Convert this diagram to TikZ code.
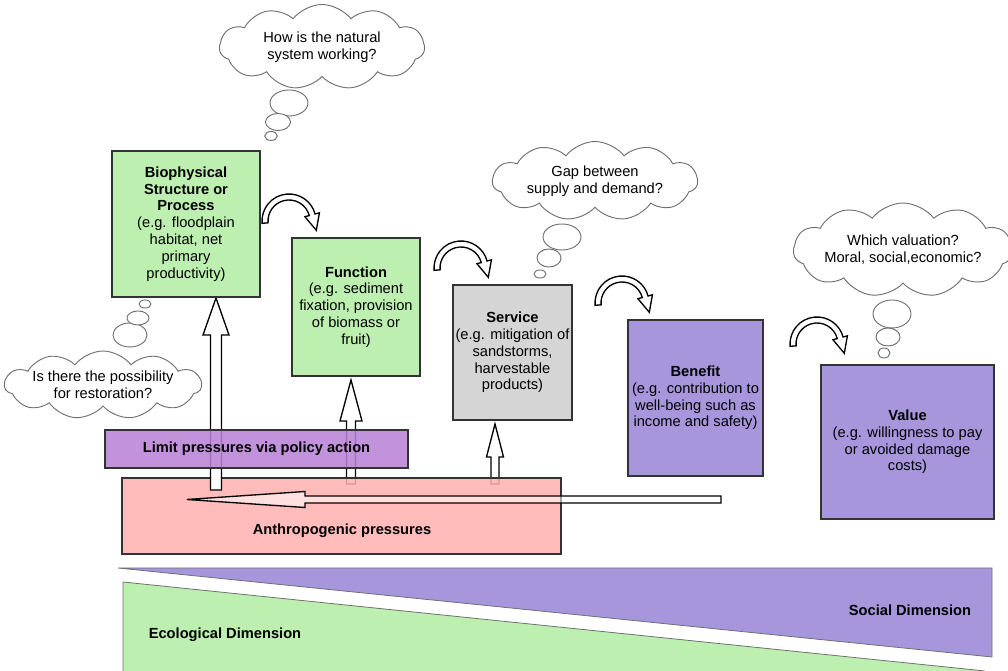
\documentclass[tikz,border=0pt]{standalone}
\usepackage{fontspec}
\setmainfont{Liberation Sans}
\usetikzlibrary{shapes.symbols}

\definecolor{ecogreen}{HTML}{BDF0B0}
\definecolor{servgrey}{HTML}{D4D5D4}
\definecolor{socpurple}{HTML}{A796DB}
\definecolor{policyviolet}{HTML}{B97FD7}
\definecolor{pressurepink}{HTML}{FFB0AE}
\definecolor{boxline}{HTML}{333333}
\definecolor{cloudline}{HTML}{707070}

\newcommand{\boxfont}{\fontsize{11}{12.6}\selectfont}
% block arrow pointing up: x, bottom, head base, tip, shaft half, head half
\newcommand{\liftarrow}[6]{%
  \draw[hollow] (#1-#5,#2) -- (#1-#5,#3) -- (#1-#6,#3) -- (#1,#4)
    -- (#1+#6,#3) -- (#1+#5,#3) -- (#1+#5,#2) -- cycle;}

\tikzset{
  stage/.style={draw=boxline, line width=1.4pt, align=center, inner sep=0pt, font=\boxfont},
  thought/.style={cloud, cloud puffs=11, cloud puff arc=105, cloud ignores aspect,
    draw=cloudline, line width=0.7pt, fill=white, align=center, inner sep=0pt, font=\boxfont},
  bubble/.style={draw=cloudline, line width=0.7pt, fill=white},
  hollow/.style={draw=black, line width=1pt, fill=white},
  turn/.pic={
    \draw[hollow, shift={(22,2)}] (185:27) arc (185:15:27) -- (15:31.5) -- (27.3,-9.3)
      -- (15:16.5) -- (15:21) arc (15:185:21) -- cycle;
  }
}

\begin{document}
\begin{tikzpicture}[x=0.75pt, y=0.75pt]
  \useasboundingbox (0,0) rectangle (1008,671);

  % dimensions
  \fill[socpurple] (118,103) -- (992,103) -- (992,14) -- cycle;
  \draw[cloudline, line width=0.6pt] (118,103) -- (992,103) -- (992,14) -- cycle;
  \fill[ecogreen] (123,89) -- (985,0) -- (123,0) -- cycle;
  \draw[cloudline, line width=0.6pt] (123,0) -- (123,89) -- (985,0);
  \node[font=\boxfont\bfseries] (social) at (910,61) {Social Dimension};
  \node[font=\boxfont\bfseries] (ecological) at (225,36) {Ecological Dimension};

  % pressures
  \liftarrow{351}{187}{250}{291}{4.5}{11}
  \liftarrow{495}{187}{214}{247}{4}{8.5}
  \node[stage, fill=pressurepink, fill opacity=0.85, text opacity=1,
    minimum width=329.25pt, minimum height=57pt] (pressure) at (341.5,155) {};
  \node[font=\boxfont\bfseries] (pressurelabel) at (342,140) {Anthropogenic pressures};
  \liftarrow{216}{181}{336}{373}{5.5}{13}
  \draw[hollow, fill opacity=0.55] (721,175) -- (305,175) -- (305,179.5) -- (187,171.5)
    -- (305,163.5) -- (305,168) -- (721,168) -- cycle;
  \node[stage, fill=policyviolet, fill opacity=0.85, text opacity=1,
    minimum width=227.25pt, minimum height=28.5pt] (policy) at (256.5,222)
    {\textbf{Limit pressures via policy action}};

  % cascade
  \node[stage, fill=ecogreen, minimum width=111pt, minimum height=109.5pt] (structure) at (186,447)
    {\textbf{Biophysical}\\\textbf{Structure or}\\\textbf{Process}\\(e.g. floodplain\\habitat, net\\primary\\productivity)};
  \node[stage, fill=ecogreen, minimum width=96pt, minimum height=103.5pt] (function) at (356,364)
    {\textbf{Function}\\(e.g. sediment\\fixation, provision\\of biomass or\\fruit)};
  \node[stage, fill=servgrey, minimum width=89.25pt, minimum height=101.25pt] (service) at (512.5,318.5)
    {\textbf{Service}\\(e.g. mitigation of\\sandstorms,\\harvestable\\products)};
  \node[stage, fill=socpurple, minimum width=101.25pt, minimum height=117pt] (benefit) at (695.5,273)
    {\textbf{Benefit}\\(e.g. contribution to\\well-being such as\\income and safety)};
  \node[stage, fill=socpurple, minimum width=129.75pt, minimum height=115.5pt] (value) at (907.5,229)
    {\textbf{Value}\\(e.g. willingness to pay\\or avoided damage\\costs)};

  \pic at (267,448) {turn};
  \pic at (439,401) {turn};
  \pic at (600,366) {turn};
  \pic at (795,325) {turn};

  % questions
  \node[thought, minimum width=153.75pt, minimum height=63.75pt] (working) at (322,624)
    {How is the natural\\system working?};
  \draw[bubble] (289,568) ellipse [x radius=19, y radius=13];
  \draw[bubble] (278,549) ellipse [x radius=12.5, y radius=8.5];
  \draw[bubble] (271,535) ellipse [x radius=6.3, y radius=4.5];

  \node[thought, minimum width=153.75pt, minimum height=59.25pt] (gap) at (595,490)
    {Gap between\\supply and demand?};
  \draw[bubble] (562,434) ellipse [x radius=19, y radius=13];
  \draw[bubble] (549,413) ellipse [x radius=12, y radius=9];
  \draw[bubble] (540,397) ellipse [x radius=6, y radius=4];

  \node[thought, minimum width=153pt, minimum height=70.5pt] (valuation) at (903,421)
    {Which valuation?\\Moral, social,economic?};
  \draw[bubble] (892,357) ellipse [x radius=19, y radius=14];
  \draw[bubble] (888,334) ellipse [x radius=12, y radius=9];
  \draw[bubble] (884,318) ellipse [x radius=6, y radius=5];

  \node[thought, minimum width=138.75pt, minimum height=51pt] (restoration) at (103,286)
    {Is there the possibility\\for restoration?};
  \draw[bubble] (130,336) ellipse [x radius=17, y radius=12];
  \draw[bubble] (138,353) ellipse [x radius=11, y radius=7];
  \draw[bubble] (145,367) ellipse [x radius=6, y radius=4];
\end{tikzpicture}
\end{document}
